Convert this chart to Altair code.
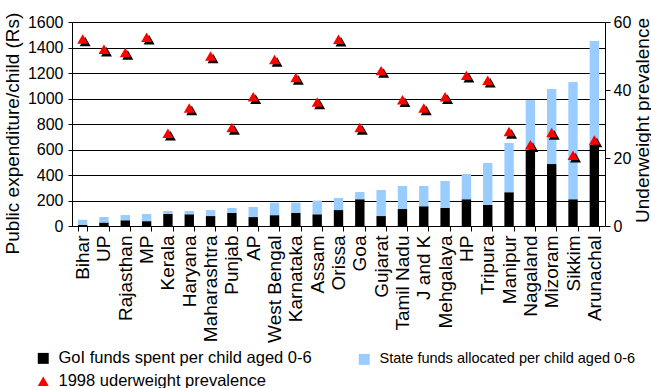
import altair as alt
import pandas as pd

# States, ordered by total public expenditure per child
states = ["Bihar", "UP", "Rajasthan", "MP", "Kerala", "Haryana", "Maharashtra",
          "Punjab", "AP", "West Bengal", "Karnataka", "Assam", "Orissa", "Goa",
          "Gujarat", "Tamil Nadu", "J and K", "Mehgalaya", "HP", "Tripura",
          "Manipur", "Nagaland", "Mizoram", "Sikkim", "Arunachal"]

# GoI funds spent per child aged 0-6 (Rs)
goi_funds = [10, 28, 45, 38, 94, 92, 78, 103, 70, 85, 104, 92, 125, 210,
             78, 133, 155, 141, 210, 165, 265, 596, 486, 210, 640]

# State funds allocated per child aged 0-6 (Rs), stacked on top of GoI funds
state_funds = [40, 42, 41, 56, 24, 26, 47, 38, 79, 98, 79, 107, 95, 57,
               204, 181, 159, 212, 198, 329, 386, 392, 589, 919, 811]

# 1998 underweight prevalence (%)
prevalence = [55.0, 52.0, 51.0, 55.5, 27.3, 34.7, 50.0, 29.0, 38.0, 49.0,
              43.7, 36.5, 54.9, 29.0, 45.7, 37.1, 34.7, 38.0, 44.3, 42.9,
              27.8, 23.9, 27.5, 20.8, 25.3]

series = ["GoI funds spent per child aged 0-6",
          "State funds allocated per child aged 0-6",
          "1998 uderweight prevalence"]
series_colors = ["#000000", "#99CCFF", "#FF0000"]
series_shapes = ["square", "square", "triangle-up"]

FONT = "Liberation Sans, Arial, Helvetica, sans-serif"

bars = pd.DataFrame({
    "state": states * 2,
    "value": goi_funds + state_funds,
    "series": [series[0]] * len(states) + [series[1]] * len(states),
    "order": [0] * len(states) + [1] * len(states),
})
points = pd.DataFrame({"state": states, "prevalence": prevalence,
                       "series": series[2]})

color_scale = alt.Scale(domain=series, range=series_colors)
shape_scale = alt.Scale(domain=series, range=series_shapes)

x_enc = alt.X(
    "state:N", sort=states, title=None,
    scale=alt.Scale(paddingInner=0.56, paddingOuter=0.28),
    axis=alt.Axis(labelAngle=-90, labelFontSize=19, labelColor="black",
                  labelPadding=4, tickSize=5, tickBand="extent",
                  tickColor="black", domainColor="black"),
)

bar_layer = alt.Chart(bars).mark_bar().encode(
    x=x_enc,
    y=alt.Y(
        "value:Q", stack="zero",
        scale=alt.Scale(domain=[0, 1600], nice=False),
        axis=alt.Axis(
            title="Public expenditure/child (Rs)", values=list(range(0, 1601, 200)),
            format="d", orient="left", grid=True, gridColor="black", gridOpacity=1,
            labelFontSize=16, labelColor="black", labelPadding=5, tickSize=4,
            tickColor="black", domainColor="black",
            titleFontSize=19, titleFontWeight="normal", titleColor="black",
            titleAngle=270, titleAlign="center", titleBaseline="middle",
            titleX=-60, titleY=111,
        ),
    ),
    color=alt.Color("series:N", scale=color_scale,
                    legend=alt.Legend(title=None)),
    order=alt.Order("order:Q"),
)

y_prev = alt.Y(
    "prevalence:Q",
    scale=alt.Scale(domain=[0, 60], nice=False),
    axis=alt.Axis(
        title="Underweight prevalence", orient="right", grid=False,
        values=list(range(0, 61, 10)), format="d",
        labelFontSize=16, labelColor="black", labelPadding=3, tickSize=5,
        tickColor="black", domainColor="black",
        titleFontSize=19, titleFontWeight="normal", titleColor="black",
        titleAngle=270, titleAlign="center", titleBaseline="middle",
        titleX=37, titleY=98,
    ),
)

# drop shadow under each triangle marker
shadow_layer = alt.Chart(points).mark_point(
    shape="triangle-up", filled=True, opacity=1, size=120,
    xOffset=2.5, yOffset=2.5, color="black",
).encode(x=alt.X("state:N", sort=states), y=alt.Y("prevalence:Q"))

tri_layer = alt.Chart(points).mark_point(
    filled=True, opacity=1, size=120,
).encode(
    x=alt.X("state:N", sort=states),
    y=y_prev,
    color=alt.Color("series:N", scale=color_scale,
                    legend=alt.Legend(title=None)),
    shape=alt.Shape("series:N", scale=shape_scale,
                    legend=alt.Legend(title=None)),
)

points_layer = alt.layer(shadow_layer, tri_layer)

# the long state-funds legend entry is set a little smaller so it fits
legend_size = alt.ExprRef(f"datum.label === '{series[1]}' ? 14.5 : 16.5")

chart = alt.layer(bar_layer, points_layer).resolve_scale(
    y="independent"
).properties(
    width=533, height=204,
    autosize=alt.AutoSizeParams(type="none"),
    padding={"left": 72, "top": 22, "right": 46, "bottom": 162},
).configure(
    font=FONT,
).configure_axis(
    labelFont=FONT, titleFont=FONT,
).configure_view(
    strokeWidth=0,
).configure_legend(
    orient="none", legendX=-37, legendY=328, columns=2, direction="horizontal",
    columnPadding=44, rowPadding=6, labelFontSize=legend_size, labelColor="black",
    labelFont=FONT, symbolSize=120, symbolOffset=0, labelOffset=7,
    labelLimit=0, symbolStrokeWidth=0, padding=0,
)

chart.save("out.html", embed_options={"renderer": "svg", "actions": False})
